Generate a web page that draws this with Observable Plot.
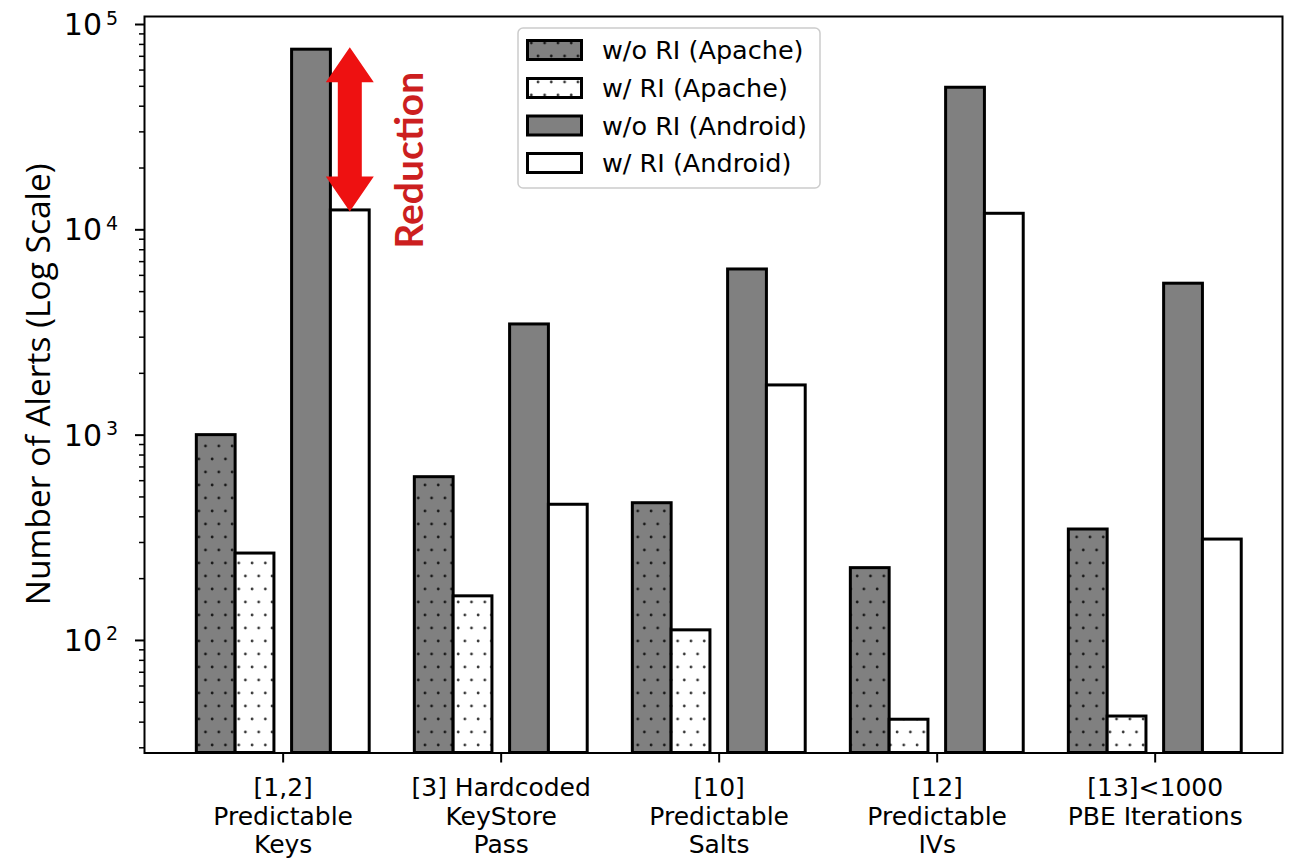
<!DOCTYPE html>
<html><head><meta charset="utf-8">
<script src="https://cdn.jsdelivr.net/npm/d3@7"></script>
<script src="https://cdn.jsdelivr.net/npm/@observablehq/plot@0.6"></script>
<style>body{margin:0;background:#fff} #chart svg{display:block}</style>
</head><body><div id="chart"></div>
<script>
// ---- data ----
const categories = ["[1,2]\nPredictable\nKeys", "[3] Hardcoded\nKeyStore\nPass", "[10]\nPredictable\nSalts", "[12]\nPredictable\nIVs", "[13]<1000\nPBE Iterations"];
const seriesNames = ["w/o RI (Apache)", "w/ RI (Apache)", "w/o RI (Android)", "w/ RI (Android)"];
const woApache  = [1000, 624, 466, 225, 347];
const wApache   = [265, 164, 112, 41.1, 42.6];
const woAndroid = [75400, 3460, 6410, 49200, 5465];
const wAndroid  = [12430, 458, 1746, 11970, 310];
const yTicks = [100, 1000, 10000, 100000];
const annotationText = "Reduction";
const yLabel = "Number of Alerts (Log Scale)";

// ---- layout / style ----
const seriesValues = [woApache, wApache, woAndroid, wAndroid];
const offsets = [-0.307, -0.129, 0.13, 0.308];
const barW = 0.178;
const fills = ["url(#dotsDark)", "url(#dotsLight)", "#808080", "#ffffff"];
const yMin = 28.3, yMax = 109400;
const minorTicks = [];
for (let e = 1; e <= 4; e++) for (let m = 2; m <= 9; m++) { const v = m * 10 ** e; if (v > yMin && v < yMax) minorTicks.push(v); }

const defsMark = () => {
  const g = d3.create("svg:g");
  const defs = g.append("defs");
  [["dotsDark", "#808080", "#1a1a1a"], ["dotsLight", "#ffffff", "#3a3a3a"]].forEach(([id, bg, dot]) => {
    const p = defs.append("pattern").attr("id", id).attr("patternUnits", "userSpaceOnUse")
      .attr("width", 13.3).attr("height", 26).attr("x", 3).attr("y", 0);
    p.append("rect").attr("width", 13.3).attr("height", 26).attr("fill", bg);
    p.append("circle").attr("cx", 3).attr("cy", 4).attr("r", 1.4).attr("fill", dot);
    p.append("circle").attr("cx", 9.65).attr("cy", 17).attr("r", 1.4).attr("fill", dot);
  });
  return g.node();
};

const barMarks = seriesValues.map((vals, s) =>
  Plot.rectY(vals.map((v, g) => ({g, v})), {
    x1: d => d.g + offsets[s] - barW / 2,
    x2: d => d.g + offsets[s] + barW / 2,
    y1: yMin, y2: "v",
    fill: fills[s], stroke: "black", strokeWidth: 3, strokeLinejoin: "miter"
  })
);

const annotationMark = (index, {x, y}) => {
  const g = d3.create("svg:g");
  const ax = x(0 + offsets[3]);
  const yt = y(woAndroid[0]) - 2, yb = y(wAndroid[0]) + 1.5;
  const hw = 24, sw = 12, hl = 35;
  const pts = [[ax, yt], [ax + hw, yt + hl], [ax + sw, yt + hl], [ax + sw, yb - hl], [ax + hw, yb - hl], [ax, yb],
               [ax - hw, yb - hl], [ax - sw, yb - hl], [ax - sw, yt + hl], [ax - hw, yt + hl]];
  g.append("polygon").attr("points", pts.map(p => p.join(",")).join(" ")).attr("fill", "#ee1111");
  g.append("text").attr("transform", `translate(${ax + 73},${(yt + yb) / 2 + 31}) rotate(-90)`)
    .attr("text-anchor", "middle").attr("font-family", "Lato").attr("font-weight", "bold")
    .attr("font-size", 39).attr("fill", "#cc1f1f").text(annotationText);
  return g.node();
};

const yLabelsMark = (index, {y}, values, dims) => {
  const g = d3.create("svg:g").attr("font-family", "DejaVu Sans").attr("fill", "black");
  const left = dims.marginLeft;
  yTicks.forEach(t => {
    const yy = y(t);
    g.append("text").attr("x", left - 42).attr("y", yy + 11).attr("text-anchor", "end").attr("font-size", 30).text("10");
    g.append("text").attr("x", left - 38).attr("y", yy + 0.5).attr("text-anchor", "start").attr("font-size", 19).text(String(Math.round(Math.log10(t))));
  });
  const cy = (dims.marginTop + dims.height - dims.marginBottom) / 2;
  g.append("text").attr("transform", `translate(50,${cy}) rotate(-90)`).attr("text-anchor", "middle")
    .attr("font-family", "Open Sans").attr("font-size", 33.5).text(yLabel);
  return g.node();
};

const legendMark = () => {
  const g = d3.create("svg:g").attr("font-family", "DejaVu Sans").attr("text-anchor", "start");
  g.append("rect").attr("x", 518).attr("y", 28).attr("width", 302).attr("height", 160).attr("rx", 5)
    .attr("fill", "white").attr("fill-opacity", 0.85).attr("stroke", "#cccccc").attr("stroke-width", 1.5);
  const rows = [50, 88, 125.5, 163];
  seriesNames.forEach((name, i) => {
    g.append("rect").attr("x", 527.5).attr("y", rows[i] - 9.5).attr("width", 54).attr("height", 19)
      .attr("fill", fills[i]).attr("stroke", "black").attr("stroke-width", 3);
    g.append("text").attr("x", 602).attr("y", rows[i] + 9).attr("text-anchor", "start")
      .attr("font-size", 25.5).attr("fill", "black").text(name);
  });
  return g.node();
};

const chart = Plot.plot({
  width: 1302, height: 858,
  marginLeft: 144, marginRight: 20, marginTop: 16, marginBottom: 105.5,
  style: {fontFamily: "DejaVu Sans", color: "black", background: "white"},
  x: {type: "linear", domain: [-0.636, 4.584]},
  y: {type: "log", domain: [yMin, yMax]},
  marks: [
    defsMark,
    ...barMarks,
    Plot.frame({stroke: "black", strokeWidth: 2}),
    Plot.axisY({ticks: yTicks, tickSize: 9, tickFormat: () => "", label: null, strokeWidth: 2}),
    Plot.axisY({ticks: minorTicks, tickSize: 5, tickFormat: () => "", label: null, strokeWidth: 1.5}),
    Plot.axisX({ticks: [0, 1, 2, 3, 4], tickSize: 10, tickFormat: () => "", label: null, strokeWidth: 2}),
    Plot.text(categories, {x: (d, i) => i, text: d => d, frameAnchor: "bottom", lineAnchor: "top", dy: 23,
      fontSize: 25, lineHeight: 1.14, fill: "black"}),
    yLabelsMark,
    annotationMark,
    legendMark
  ]
});
document.getElementById("chart").appendChild(chart);
</script>
</body></html>
